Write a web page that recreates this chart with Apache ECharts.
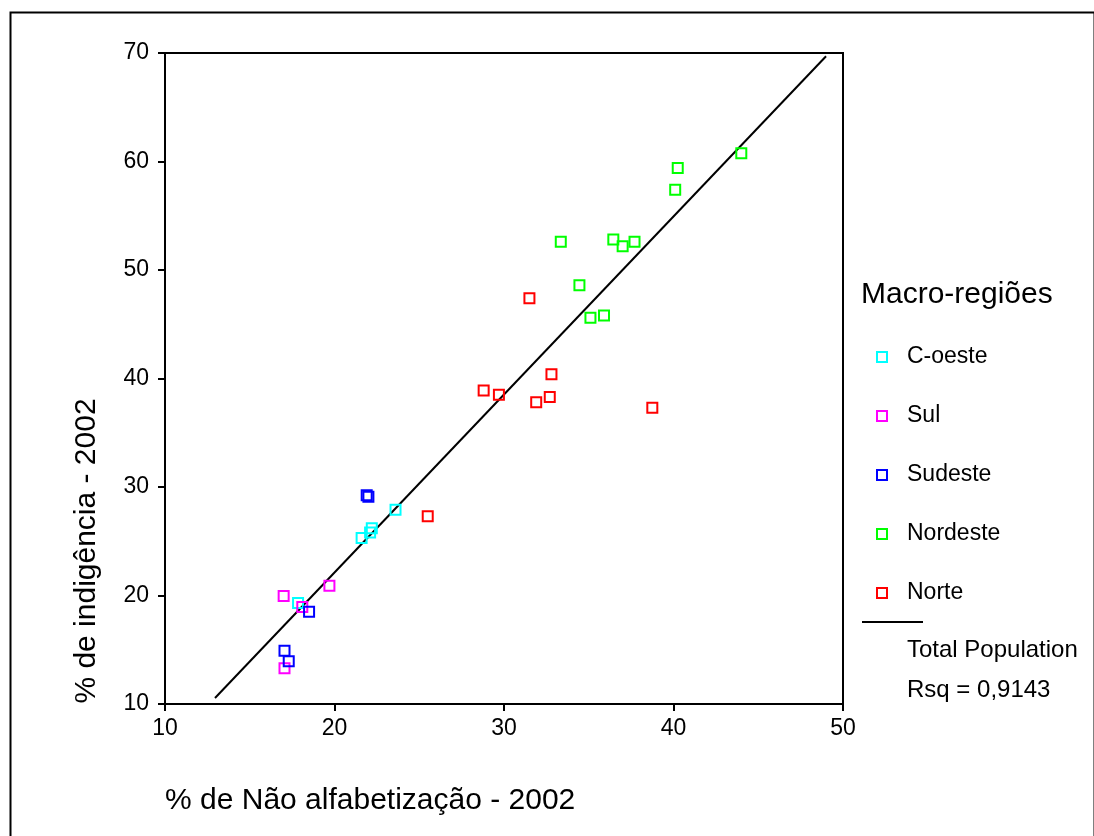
<!DOCTYPE html>
<html>
<head>
<meta charset="utf-8">
<script src="https://cdn.jsdelivr.net/npm/echarts@6/dist/echarts.min.js"></script>
<style>
html,body{margin:0;padding:0;background:#fff;}
#chart{width:1094px;height:836px;}
</style>
</head>
<body>
<div id="chart"></div>
<script>
// ---- Data ----
const regionNames = ['C-oeste', 'Sul', 'Sudeste', 'Nordeste', 'Norte'];
const regionColors = ['#00FFFF', '#FF00FF', '#0000FF', '#00FF00', '#FF0000'];

const coesteX = [17.85, 21.6, 22.2, 22.1, 23.6];
const coesteY = [19.3, 25.3, 26.2, 25.8, 27.9];

const sulX = [17.0, 18.1, 19.7, 17.05];
const sulY = [19.95, 18.95, 20.9, 13.3];

const sudesteX = [18.5, 17.05, 17.3, 21.9, 22.0];
const sudesteY = [18.5, 14.9, 13.95, 29.25, 29.1];

const nordesteX = [44.0, 40.25, 40.1, 33.35, 36.45, 37.0, 37.7, 34.45, 35.1, 35.9];
const nordesteY = [60.75, 59.4, 57.4, 52.6, 52.8, 52.2, 52.6, 48.6, 45.6, 45.8];

const norteX = [25.5, 31.5, 28.8, 29.7, 32.8, 31.9, 32.7, 38.75];
const norteY = [27.3, 47.4, 38.9, 38.5, 40.4, 37.8, 38.3, 37.3];

// Fit line (Total Population) endpoints
const fitX = [12.95, 49.0];
const fitY = [10.55, 69.7];

const xTicks = [10, 20, 30, 40, 50];
const yTicks = [10, 20, 30, 40, 50, 60, 70];

const xTitle = '% de Não alfabetização - 2002';
const yTitle = '% de indigência - 2002';
const legendTitle = 'Macro-regiões';
const fitLabel1 = 'Total Population';
const fitLabel2 = 'Rsq = 0,9143';

// ---- Build ----
const FONT = '"Liberation Sans", Arial, sans-serif';
const groups = [[coesteX, coesteY], [sulX, sulY], [sudesteX, sudesteY], [nordesteX, nordesteY], [norteX, norteY]];

const zip = (xs, ys) => xs.map((x, i) => [x, ys[i]]);

const series = groups.map((g, i) => ({
  name: regionNames[i],
  type: 'scatter',
  symbol: 'rect',
  symbolSize: 10,
  data: zip(g[0], g[1]),
  itemStyle: { color: 'rgba(255,255,255,0)', borderColor: regionColors[i], borderWidth: 2, opacity: 1 },
  emphasis: { disabled: true },
  z: 3
}));

series.push({
  name: 'fit',
  type: 'line',
  data: zip(fitX, fitY),
  showSymbol: false,
  symbol: 'none',
  lineStyle: { color: '#000', width: 2 },
  silent: true,
  z: 2
});

const chart = echarts.init(document.getElementById('chart'), null, { renderer: 'canvas' });

chart.setOption({
  animation: false,
  backgroundColor: '#fff',
  grid: {
    left: 165, top: 53, right: 251, bottom: 132,
    show: true, borderColor: '#000', borderWidth: 2, backgroundColor: 'transparent'
  },
  xAxis: {
    type: 'value', min: xTicks[0], max: xTicks[xTicks.length - 1], interval: 10,
    axisLine: { show: true, onZero: false, lineStyle: { color: '#000', width: 2 } },
    axisTick: { show: true, length: 7, lineStyle: { color: '#000', width: 2 } },
    axisLabel: { color: '#000', fontSize: 23, fontFamily: FONT, margin: 13 },
    splitLine: { show: false }
  },
  yAxis: {
    type: 'value', min: yTicks[0], max: yTicks[yTicks.length - 1], interval: 10,
    axisLine: { show: true, onZero: false, lineStyle: { color: '#000', width: 2 } },
    axisTick: { show: true, length: 7, lineStyle: { color: '#000', width: 2 } },
    axisLabel: { color: '#000', fontSize: 23, fontFamily: FONT, margin: 16 },
    splitLine: { show: false }
  },
  legend: {
    data: regionNames,
    orient: 'vertical',
    left: 871,
    top: 340,
    itemWidth: 10,
    itemHeight: 10,
    itemGap: 35,
    selectedMode: false,
    textStyle: { color: '#000', fontSize: 23, fontFamily: FONT, lineHeight: 24, padding: [0, 0, 0, 15] }
  },
  series: series,
  graphic: [
    { type: 'rect', left: 8, top: 10, shape: { width: 1084, height: 900 },
      style: { fill: 'none', stroke: '#000', lineWidth: 2 }, silent: true, z: -1 },
    { type: 'text', left: 165, top: 786,
      style: { text: xTitle, font: '30px ' + FONT, fill: '#000' } },
    { type: 'text', x: 87, y: 551, rotation: Math.PI / 2,
      style: { text: yTitle, font: '30px ' + FONT, fill: '#000', align: 'center', verticalAlign: 'middle' } },
    { type: 'text', left: 861, top: 280,
      style: { text: legendTitle, font: '30px ' + FONT, fill: '#000' } },
    { type: 'line', shape: { x1: 862, y1: 622, x2: 923, y2: 622 },
      style: { stroke: '#000', lineWidth: 2 } },
    { type: 'text', left: 907, top: 638,
      style: { text: fitLabel1, font: '24px ' + FONT, fill: '#000' } },
    { type: 'text', left: 907, top: 678,
      style: { text: fitLabel2, font: '24px ' + FONT, fill: '#000' } }
  ]
});
</script>
</body>
</html>
